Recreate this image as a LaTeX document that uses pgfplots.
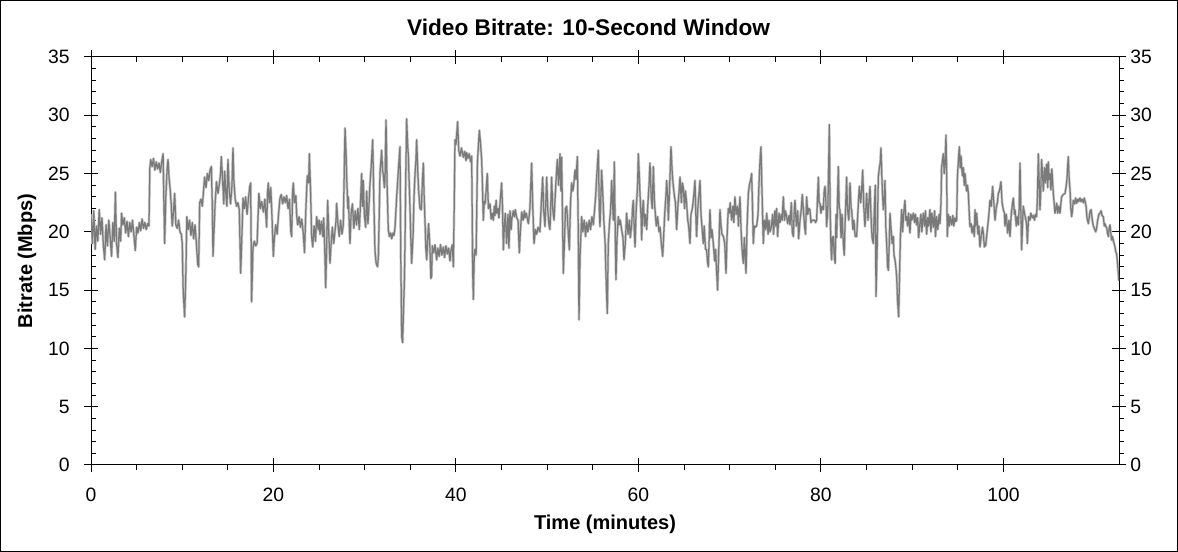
\documentclass[border=0pt]{standalone}
\usepackage{pgfplots}
\usepackage{pgfplotstable}
\pgfplotsset{compat=1.18}
\usepackage{fontspec}
\setmainfont{Liberation Sans}
\pgfplotstableread[row sep=\\]{
t v\\
0 21.5\\ 0.15 19.0\\ 0.3 21.8\\ 0.45 18.5\\ 0.6 20.5\\ 0.75 19.2\\ 0.9 21.9\\ 1.05 19.8\\ 1.2 21.2\\ 1.35 18.9\\
1.5 17.6\\ 1.65 20.6\\ 1.8 18.8\\ 1.95 21.0\\ 2.1 19.5\\ 2.25 17.9\\ 2.4 20.8\\ 2.55 19.2\\ 2.67 23.4\\ 2.8 19.0\\
2.95 17.8\\ 3.1 20.3\\ 3.25 19.2\\ 3.35 21.6\\ 3.5 20.6\\ 3.65 21.2\\ 3.8 19.9\\ 3.95 20.9\\ 4.1 19.6\\ 4.25 20.8\\
4.4 20.0\\ 4.55 21.0\\ 4.7 19.7\\ 4.85 18.4\\ 5.0 20.4\\ 5.15 19.9\\ 5.3 20.8\\ 5.45 20.1\\ 5.6 21.1\\ 5.75 20.3\\
5.9 20.8\\ 6.05 20.2\\ 6.2 20.7\\ 6.35 20.5\\ 6.45 25.5\\ 6.55 26.2\\ 6.7 25.6\\ 6.85 26.3\\ 7.0 25.3\\ 7.15 26.0\\
7.3 25.4\\ 7.45 25.9\\ 7.6 25.1\\ 7.75 26.0\\ 7.9 26.7\\ 8.0 22.0\\ 8.07 19.0\\ 8.2 23.0\\ 8.35 25.5\\ 8.44 26.2\\
8.55 24.7\\ 8.7 23.4\\ 8.8 22.2\\ 8.9 20.5\\ 9.05 21.8\\ 9.17 23.3\\ 9.3 20.6\\ 9.45 20.3\\ 9.6 21.0\\ 9.75 20.0\\
9.9 19.8\\ 10.0 19.0\\ 10.1 15.0\\ 10.26 12.7\\ 10.4 16.5\\ 10.5 21.3\\ 10.65 20.2\\ 10.8 21.0\\ 10.95 19.7\\ 11.1 20.8\\
11.25 19.4\\ 11.4 20.6\\ 11.55 19.0\\ 11.7 17.2\\ 11.8 17.0\\ 11.91 22.5\\ 12.05 22.8\\ 12.2 22.2\\ 12.35 23.7\\ 12.45 24.7\\
12.6 23.8\\ 12.75 25.0\\ 12.9 24.4\\ 13.05 25.3\\ 13.19 25.6\\ 13.3 22.0\\ 13.37 17.9\\ 13.5 20.5\\ 13.6 22.4\\ 13.75 24.3\\
13.92 23.3\\ 14.05 24.0\\ 14.2 25.0\\ 14.28 26.45\\ 14.4 24.8\\ 14.55 22.4\\ 14.65 25.2\\ 14.8 23.0\\ 14.9 22.2\\ 15.01 26.2\\
15.15 23.5\\ 15.3 22.4\\ 15.45 24.0\\ 15.56 27.2\\ 15.65 24.5\\ 15.8 22.8\\ 15.95 22.2\\ 16.1 22.5\\ 16.25 21.9\\ 16.4 16.45\\
16.55 20.0\\ 16.66 22.9\\ 16.8 22.0\\ 16.95 23.0\\ 17.1 21.5\\ 17.25 22.8\\ 17.4 23.9\\ 17.5 24.2\\ 17.6 14.0\\ 17.75 18.6\\
17.9 19.2\\ 18.05 18.8\\ 18.2 19.0\\ 18.4 23.3\\ 18.55 22.0\\
18.7 22.6\\ 18.89 21.7\\ 19.05 22.8\\ 19.25 20.4\\ 19.35 23.4\\ 19.43 24.2\\ 19.55 22.5\\ 19.7 23.8\\ 19.85 21.0\\ 19.98 17.9\\
20.1 19.5\\ 20.25 20.6\\ 20.4 19.8\\ 20.55 21.5\\ 20.71 22.9\\ 20.85 23.2\\ 21.0 22.4\\ 21.15 23.0\\ 21.3 22.5\\ 21.44 23.1\\
21.6 22.0\\ 21.75 22.8\\ 21.9 20.0\\ 21.99 19.6\\ 22.1 23.5\\ 22.17 24.2\\ 22.3 22.5\\ 22.45 23.1\\ 22.54 21.4\\ 22.65 20.6\\
22.8 21.3\\ 22.95 20.4\\ 23.1 21.1\\ 23.27 19.8\\ 23.4 18.2\\ 23.55 22.0\\ 23.7 24.8\\ 23.85 24.2\\ 23.93 26.7\\ 24.07 23.3\\
24.18 19.6\\ 24.3 18.7\\ 24.45 20.5\\ 24.6 19.2\\ 24.73 21.3\\ 24.9 20.2\\ 25.0 21.0\\ 25.1 19.8\\ 25.25 20.9\\ 25.4 19.6\\
25.5 21.2\\ 25.6 19.0\\ 25.72 15.2\\ 25.85 19.5\\ 25.94 22.7\\ 26.05 20.0\\ 26.19 17.3\\ 26.3 18.8\\ 26.45 20.4\\ 26.6 19.0\\
26.74 20.1\\ 26.85 20.9\\ 26.92 22.45\\ 27.05 20.8\\ 27.2 19.6\\ 27.35 21.0\\ 27.5 19.8\\ 27.65 20.6\\ 27.75 25.0\\ 27.84 28.9\\
27.95 26.8\\ 28.02 24.7\\ 28.15 22.0\\ 28.2 23.0\\ 28.38 19.0\\ 28.5 21.5\\ 28.65 22.4\\ 28.8 20.3\\ 28.95 21.8\\ 29.1 20.6\\
29.25 22.0\\ 29.4 20.2\\ 29.48 21.4\\ 29.66 25.0\\ 29.75 22.2\\ 29.84 24.4\\ 29.95 21.5\\ 30.1 20.4\\ 30.21 23.5\\ 30.35 20.7\\
30.5 22.8\\ 30.57 24.1\\ 30.7 25.5\\ 30.87 27.9\\ 31.0 22.5\\ 31.12 18.4\\ 31.25 17.3\\ 31.4 17.0\\ 31.49 17.8\\ 31.6 22.0\\
31.67 25.0\\ 31.85 27.0\\ 31.95 25.3\\ 32.04 24.9\\ 32.15 23.8\\ 32.22 24.4\\ 32.33 29.6\\ 32.45 24.0\\ 32.58 20.2\\ 32.7 19.6\\
32.85 19.9\\ 32.95 19.4\\ 33.1 19.9\\ 33.2 19.7\\ 33.31 20.3\\ 33.5 23.0\\ 33.7 25.5\\ 33.86 27.3\\ 33.95 18.0\\ 34.05 11.0\\
34.15 10.5\\ 34.23 12.8\\ 34.35 16.0\\ 34.41 19.0\\ 34.5 25.0\\ 34.59 29.7\\ 34.7 27.5\\ 34.78 26.5\\ 34.9 23.5\\ 34.96 22.0\\
35.05 19.5\\ 35.14 17.3\\ 35.3 19.8\\ 35.4 23.0\\ 35.51 25.0\\ 35.6 26.0\\ 35.69 27.9\\ 35.8 25.5\\ 35.9 23.6\\ 36.05 22.0\\
36.2 21.9\\ 36.3 24.0\\ 36.42 25.9\\ 36.5 23.3\\ 36.6 21.0\\ 36.7 18.5\\ 36.79 17.6\\ 36.9 19.5\\ 37.0 20.7\\ 37.15 18.5\\
37.25 16.0\\ 37.33 16.2\\ 37.4 18.8\\ 37.55 18.2\\ 37.7 18.9\\ 37.88 17.6\\ 38.0 18.6\\ 38.15 17.9\\ 38.3 18.9\\ 38.45 18.0\\
38.61 18.7\\ 38.75 17.8\\ 38.9 18.8\\ 39.05 18.1\\ 39.2 18.6\\ 39.34 17.5\\ 39.45 18.4\\ 39.6 18.9\\ 39.71 17.0\\ 39.8 22.0\\
39.89 27.9\\ 40.0 27.5\\ 40.1 28.6\\ 40.18 29.45\\ 40.3 27.0\\ 40.44 26.5\\ 40.6 27.2\\ 40.8 26.4\\ 40.95 26.9\\ 41.1 26.1\\
41.17 26.8\\ 41.3 26.3\\ 41.45 26.7\\ 41.6 26.0\\ 41.72 26.5\\ 41.83 16.7\\ 41.9 14.2\\ 42.0 18.0\\ 42.08 18.5\\ 42.2 18.0\\
42.35 26.0\\ 42.5 28.0\\ 42.56 28.7\\ 42.7 27.5\\ 42.81 26.2\\ 42.9 24.0\\ 42.99 21.0\\ 43.1 22.6\\ 43.18 22.4\\ 43.3 23.5\\
43.43 25.0\\ 43.55 22.0\\ 43.73 22.4\\ 43.85 21.1\\ 43.95 21.6\\ 44.09 21.0\\ 44.2 22.2\\ 44.27 21.4\\ 44.4 22.7\\ 44.46 21.6\\
44.6 22.0\\ 44.7 21.2\\ 44.82 22.4\\ 45.0 24.2\\ 45.1 22.0\\ 45.19 18.45\\ 45.3 20.5\\ 45.4 21.6\\ 45.55 19.0\\ 45.7 21.5\\
45.8 18.6\\ 45.92 21.8\\ 46.05 20.2\\ 46.1 21.0\\ 46.28 21.8\\ 46.4 21.3\\ 46.5 21.9\\ 46.65 21.2\\ 46.8 21.0\\ 46.94 18.2\\
47.05 20.0\\ 47.2 21.7\\ 47.35 21.0\\ 47.5 21.8\\ 47.56 21.2\\ 47.7 21.6\\ 47.85 21.0\\ 47.93 20.7\\ 48.1 22.0\\ 48.29 25.9\\
48.4 22.5\\ 48.55 19.0\\ 48.7 20.2\\ 48.84 19.8\\ 49.0 20.4\\ 49.2 20.0\\ 49.35 22.5\\ 49.5 24.7\\ 49.6 22.0\\ 49.75 20.45\\
49.94 24.7\\ 50.05 22.0\\ 50.2 20.5\\ 50.3 20.2\\ 50.48 24.7\\ 50.6 22.0\\ 50.74 21.0\\ 50.9 23.5\\ 51.1 26.2\\ 51.25 24.0\\
51.4 26.7\\ 51.5 23.5\\ 51.58 26.4\\ 51.7 20.0\\ 51.76 16.45\\ 51.9 19.5\\ 52.0 22.0\\ 52.13 22.2\\ 52.3 20.0\\ 52.42 18.45\\
52.55 22.5\\ 52.68 24.2\\ 52.8 23.5\\ 52.9 24.0\\ 53.04 25.3\\ 53.15 24.5\\ 53.3 26.45\\ 53.4 20.0\\ 53.48 12.45\\ 53.6 18.0\\
53.77 21.3\\ 53.9 20.0\\ 54.05 21.0\\ 54.2 19.6\\ 54.32 20.8\\ 54.45 20.0\\ 54.6 21.0\\ 54.75 20.2\\ 54.9 21.3\\ 55.05 20.6\\
55.2 22.0\\ 55.3 23.0\\ 55.42 24.7\\ 55.6 27.0\\ 55.7 22.0\\ 55.78 20.45\\
55.96 25.3\\ 56.1 23.0\\ 56.2 21.0\\ 56.33 19.3\\ 56.45 16.0\\ 56.58 13.0\\ 56.69 19.0\\ 56.8 20.5\\ 56.95 22.0\\ 57.06 24.4\\
57.15 22.5\\ 57.25 21.0\\ 57.35 26.0\\ 57.45 20.0\\ 57.53 15.9\\ 57.65 19.5\\ 57.79 21.3\\ 57.9 20.6\\ 58.0 21.0\\ 58.15 20.2\\
58.3 19.5\\ 58.41 17.6\\ 58.55 19.0\\ 58.7 21.6\\ 58.85 19.8\\ 59.0 21.0\\ 59.1 19.5\\ 59.25 20.6\\ 59.35 22.0\\ 59.43 22.7\\
59.55 20.0\\ 59.62 18.7\\ 59.75 22.0\\ 59.9 24.0\\ 59.98 26.7\\ 60.08 25.0\\ 60.16 23.3\\ 60.3 21.0\\ 60.35 19.3\\ 60.45 22.0\\
60.53 22.7\\ 60.65 20.5\\ 60.75 21.5\\ 60.9 20.2\\ 61.0 22.0\\ 61.15 24.0\\ 61.26 25.9\\ 61.4 23.0\\ 61.5 22.0\\ 61.63 25.6\\
61.75 22.5\\ 61.81 21.9\\ 61.95 20.5\\ 62.1 21.3\\ 62.25 20.0\\ 62.36 20.4\\ 62.5 19.0\\ 62.65 17.9\\ 62.78 20.0\\ 62.9 21.9\\
63.0 23.0\\ 63.09 24.4\\ 63.2 23.0\\ 63.27 21.0\\ 63.4 23.5\\ 63.56 27.3\\ 63.7 25.0\\ 63.82 23.9\\ 63.95 23.0\\ 64.05 22.5\\
64.18 20.2\\ 64.3 22.0\\ 64.45 23.5\\ 64.55 24.7\\ 64.7 22.5\\ 64.8 24.2\\ 64.91 23.8\\ 65.05 22.0\\ 65.15 23.5\\ 65.28 22.4\\
65.4 21.0\\ 65.5 20.5\\ 65.64 19.0\\ 65.75 21.5\\ 65.9 22.0\\ 66.05 23.0\\ 66.19 24.4\\ 66.3 21.0\\ 66.37 19.6\\ 66.5 22.0\\
66.6 23.0\\ 66.74 24.4\\ 66.85 21.5\\ 66.95 20.5\\ 67.1 19.0\\ 67.2 20.5\\ 67.35 18.5\\ 67.47 18.45\\ 67.55 17.5\\ 67.65 17.0\\
67.75 19.5\\ 67.83 21.9\\ 67.95 19.5\\ 68.05 20.2\\ 68.2 19.0\\ 68.35 17.5\\ 68.45 18.5\\ 68.57 16.5\\ 68.67 15.0\\ 68.8 18.5\\
68.93 21.9\\ 69.05 20.5\\ 69.15 19.8\\ 69.3 19.6\\ 69.45 19.0\\ 69.59 16.45\\ 69.7 19.5\\ 69.84 22.0\\ 69.95 21.6\\ 70.05 22.5\\
70.21 21.0\\ 70.35 22.2\\ 70.45 20.8\\ 70.57 23.0\\ 70.7 21.5\\ 70.85 22.2\\ 70.95 20.5\\ 71.12 23.0\\ 71.25 20.0\\ 71.35 18.5\\
71.49 17.3\\ 71.6 19.5\\ 71.78 16.45\\ 71.9 20.5\\ 72.04 23.3\\ 72.15 24.0\\ 72.3 24.5\\ 72.4 25.0\\ 72.5 22.0\\ 72.58 19.0\\
72.7 20.5\\ 72.8 20.4\\ 72.95 20.5\\ 73.1 21.5\\ 73.2 24.0\\ 73.31 26.0\\ 73.42 27.3\\ 73.55 23.0\\ 73.68 19.0\\ 73.8 21.0\\
73.95 20.2\\ 74.05 21.6\\ 74.2 19.8\\ 74.3 21.0\\ 74.41 20.0\\ 74.55 20.4\\ 74.7 21.5\\ 74.8 19.8\\
74.95 21.8\\ 75.05 20.5\\ 75.14 22.0\\ 75.25 19.6\\ 75.4 21.6\\ 75.51 20.8\\ 75.65 21.5\\ 75.75 21.0\\ 75.87 23.0\\ 76.0 21.0\\
76.1 21.8\\ 76.24 21.3\\ 76.35 20.7\\ 76.5 21.4\\ 76.6 20.6\\ 76.75 22.5\\ 76.85 20.0\\ 76.97 19.6\\ 77.05 21.5\\ 77.15 22.7\\
77.3 20.5\\ 77.45 21.8\\ 77.55 19.4\\ 77.7 21.0\\ 77.85 22.0\\ 77.95 23.2\\ 78.06 22.0\\ 78.2 20.5\\ 78.3 19.8\\ 78.43 23.0\\
78.55 21.5\\ 78.65 22.0\\ 78.79 21.9\\ 78.9 20.8\\ 79.05 21.0\\ 79.16 21.0\\ 79.3 21.0\\ 79.4 20.8\\ 79.52 21.0\\ 79.6 22.5\\
79.71 24.7\\ 79.8 22.5\\ 79.89 22.45\\ 80.0 21.6\\ 80.1 22.2\\ 80.25 21.9\\ 80.35 23.5\\ 80.44 23.9\\ 80.55 22.5\\ 80.62 20.45\\
80.75 22.0\\ 80.85 26.0\\ 80.91 29.2\\ 81.0 22.0\\ 81.1 18.5\\ 81.17 17.6\\ 81.25 19.5\\ 81.35 19.6\\ 81.45 18.0\\ 81.55 17.3\\
81.65 21.5\\ 81.72 19.5\\ 81.82 23.0\\ 81.9 25.6\\ 82.0 22.0\\ 82.08 21.9\\ 82.2 19.5\\ 82.3 21.5\\ 82.45 19.0\\ 82.55 18.0\\
82.65 21.0\\ 82.81 24.7\\ 82.9 22.0\\ 83.05 21.0\\ 83.18 24.2\\ 83.3 22.0\\ 83.36 21.9\\ 83.5 20.2\\ 83.6 21.0\\ 83.75 19.6\\
83.91 19.6\\ 84.0 21.0\\ 84.1 22.5\\ 84.2 23.9\\ 84.35 22.5\\ 84.45 23.5\\ 84.57 25.3\\ 84.7 22.0\\ 84.82 20.45\\ 84.95 22.5\\
85.0 23.3\\ 85.15 21.0\\ 85.25 22.5\\ 85.37 23.9\\ 85.5 21.0\\ 85.6 19.5\\ 85.73 19.0\\ 85.85 22.0\\ 85.95 24.0\\ 86.03 14.45\\
86.15 18.5\\ 86.28 24.7\\ 86.4 25.5\\ 86.5 26.0\\ 86.57 27.2\\ 86.7 24.0\\ 86.83 21.9\\ 86.95 23.0\\ 87.01 24.4\\ 87.1 20.5\\
87.2 19.0\\ 87.3 17.0\\ 87.38 16.7\\ 87.5 19.5\\ 87.56 21.6\\ 87.7 20.0\\ 87.8 19.0\\ 87.93 19.6\\ 88.0 18.0\\ 88.11 17.6\\
88.2 17.0\\ 88.29 16.2\\ 88.4 14.0\\ 88.51 12.7\\ 88.6 16.0\\ 88.7 19.5\\ 88.84 21.9\\ 88.95 20.0\\ 89.05 21.5\\ 89.2 22.7\\
89.3 21.0\\ 89.39 21.3\\ 89.5 20.5\\ 89.6 21.6\\ 89.75 19.9\\ 89.85 21.5\\ 89.95 21.0\\ 90.12 21.6\\ 90.25 20.8\\ 90.35 21.5\\
90.48 20.6\\ 90.6 21.2\\ 90.7 19.5\\ 90.85 20.8\\ 90.95 21.5\\ 91.05 20.0\\ 91.21 21.6\\ 91.35 20.5\\ 91.45 21.8\\ 91.58 19.8\\
91.7 21.2\\ 91.8 20.5\\ 91.94 21.9\\ 92.05 20.0\\ 92.15 21.6\\ 92.31 20.4\\ 92.45 21.8\\ 92.55 19.6\\ 92.67 21.3\\ 92.8 20.2\\
92.95 21.5\\ 93.04 20.7\\ 93.15 22.5\\ 93.22 25.6\\ 93.3 26.0\\ 93.4 26.7\\ 93.5 25.0\\ 93.59 25.9\\
93.7 28.3\\ 93.78 24.5\\ 93.84 19.6\\ 93.95 21.5\\ 94.05 20.5\\ 94.15 21.3\\ 94.32 20.6\\ 94.45 21.4\\ 94.55 20.5\\ 94.68 21.2\\
94.8 20.9\\ 94.87 21.0\\ 94.95 24.7\\ 95.05 26.0\\ 95.16 27.3\\ 95.25 25.5\\ 95.35 26.5\\ 95.41 25.6\\ 95.5 24.8\\ 95.6 25.5\\
95.7 24.0\\ 95.78 25.0\\ 95.9 23.9\\ 95.96 23.5\\ 96.05 24.0\\ 96.15 23.3\\ 96.25 21.5\\ 96.33 20.45\\ 96.45 20.7\\ 96.55 19.9\\
96.69 20.5\\ 96.8 19.6\\ 96.88 21.9\\ 96.95 20.5\\ 97.06 21.6\\ 97.2 19.8\\ 97.3 20.5\\ 97.42 18.7\\ 97.55 19.6\\ 97.7 20.4\\
97.79 19.9\\ 97.9 18.7\\ 97.97 19.0\\ 98.05 18.8\\ 98.15 19.6\\ 98.3 20.7\\ 98.4 21.5\\ 98.52 22.7\\ 98.65 22.2\\ 98.81 23.9\\
98.95 22.4\\ 99.07 21.0\\ 99.2 22.0\\ 99.35 22.6\\ 99.43 23.3\\ 99.55 23.5\\ 99.72 24.3\\ 99.85 22.5\\ 99.98 21.9\\ 100.1 21.6\\
100.16 20.5\\ 100.3 21.5\\ 100.45 19.9\\ 100.6 21.0\\ 100.71 19.6\\ 100.85 21.5\\ 101.0 22.5\\ 101.08 22.9\\ 101.2 21.5\\ 101.26 21.9\\
101.4 20.5\\ 101.5 21.3\\ 101.62 20.6\\ 101.72 22.0\\ 101.81 25.9\\ 101.9 22.0\\ 101.99 18.45\\ 102.1 21.0\\ 102.17 22.2\\ 102.3 21.6\\
102.46 21.0\\ 102.55 20.5\\ 102.61 19.0\\ 102.75 21.3\\ 102.9 21.0\\ 103.0 21.6\\ 103.15 21.2\\ 103.27 21.4\\ 103.4 21.0\\ 103.5 21.5\\
103.63 21.3\\ 103.72 23.0\\ 103.82 26.7\\ 103.92 24.0\\ 104.0 21.9\\ 104.1 24.0\\ 104.18 26.2\\ 104.3 24.7\\ 104.36 23.5\\ 104.5 25.5\\
104.6 24.2\\ 104.73 25.8\\ 104.85 23.8\\ 104.91 26.0\\ 105.0 24.5\\ 105.1 25.0\\ 105.2 23.6\\ 105.3 25.4\\ 105.46 23.3\\ 105.55 22.5\\
105.64 21.6\\ 105.75 22.0\\ 105.83 22.45\\ 105.95 21.6\\ 106.05 22.2\\ 106.19 21.6\\ 106.3 22.5\\ 106.37 23.0\\ 106.55 23.2\\ 106.74 23.3\\
106.85 23.8\\ 106.95 24.5\\ 107.1 26.45\\ 107.2 24.5\\ 107.29 23.6\\ 107.38 22.0\\ 107.47 21.3\\ 107.55 21.8\\ 107.65 22.7\\ 107.8 22.4\\
107.9 22.9\\ 108.02 22.45\\ 108.15 22.8\\ 108.25 22.6\\ 108.38 22.9\\ 108.5 22.6\\ 108.62 22.8\\ 108.75 22.5\\ 108.85 22.9\\ 108.95 22.6\\
109.05 22.2\\ 109.15 21.2\\ 109.3 20.7\\ 109.4 21.3\\ 109.5 21.8\\ 109.6 21.9\\ 109.75 20.9\\ 109.85 20.5\\ 109.95 20.3\\ 110.1 20.0\\
110.21 20.3\\ 110.3 20.9\\ 110.45 21.5\\ 110.57 21.6\\ 110.7 21.8\\ 110.8 21.4\\ 110.94 21.3\\ 111.05 20.5\\ 111.12 20.7\\ 111.25 20.4\\
111.3 20.4\\ 111.4 19.9\\ 111.49 19.6\\ 111.58 20.3\\ 111.67 20.6\\ 111.78 19.8\\ 111.85 19.3\\ 111.95 19.6\\ 112.05 19.2\\ 112.22 18.7\\
112.3 18.3\\ 112.4 18.1\\ 112.5 17.3\\ 112.58 16.45\\ 112.65 15.8\\
}\bitrate
\begin{document}
\begin{tikzpicture}
\useasboundingbox (0,0) rectangle (883.5pt,414pt);
\draw[line width=0.75pt] (0.375pt,0.375pt) rectangle (883.125pt,413.625pt);
\begin{axis}[
  at={(68.25pt,65.25pt)}, anchor=south west,
  scale only axis, width=771pt, height=306pt,
  xmin=0, xmax=112.66, ymin=0, ymax=35,
  xtick={0,20,...,100}, ytick={0,5,...,35},
  minor x tick num=3, minor y tick num=4,
  tick align=center, major tick length=11pt, minor tick length=3.5pt,
  tick style={black, line width=0.75pt},
  minor x tick style={yshift=-1.75pt},
  minor y tick style={xshift=1.75pt},
  axis line style={line width=0.75pt},
  ticklabel style={font=\fontsize{14.5}{16}\selectfont},
  xticklabel style={yshift=-8pt},
  yticklabel style={xshift=-7pt},
  /pgf/number format/assume math mode=true,
  title={Video Bitrate: 10-Second Window},
  title style={font=\bfseries\fontsize{17}{19}\selectfont, at={(axis description cs:0.484,1.052)}, anchor=center},
  xlabel={Time (minutes)}, ylabel={Bitrate (Mbps)},
  label style={font=\bfseries\fontsize{15}{17}\selectfont},
  xlabel style={at={(axis description cs:0.5,-0.146)}, anchor=center},
  ylabel style={at={(axis description cs:-0.0623,0.5)}, anchor=center},
]
\addplot[black!20, line width=2pt, line join=round] table[x=t,y=v]{\bitrate};
\addplot[black!52, line width=0.95pt, line join=round] table[x=t,y=v]{\bitrate};
\end{axis}
\begin{axis}[
  at={(68.25pt,65.25pt)}, anchor=south west,
  scale only axis, width=771pt, height=306pt,
  xmin=0, xmax=112.66, ymin=0, ymax=35,
  hide x axis,
  ytick={0,5,...,35}, yticklabel pos=right,
  major tick length=0pt, y axis line style={draw=none},
  ticklabel style={font=\fontsize{14.5}{16}\selectfont},
  yticklabel style={xshift=5pt},
  /pgf/number format/assume math mode=true,
]
\addplot[draw=none] coordinates {(0,0) (1,1)};
\end{axis}
\end{tikzpicture}
\end{document}
